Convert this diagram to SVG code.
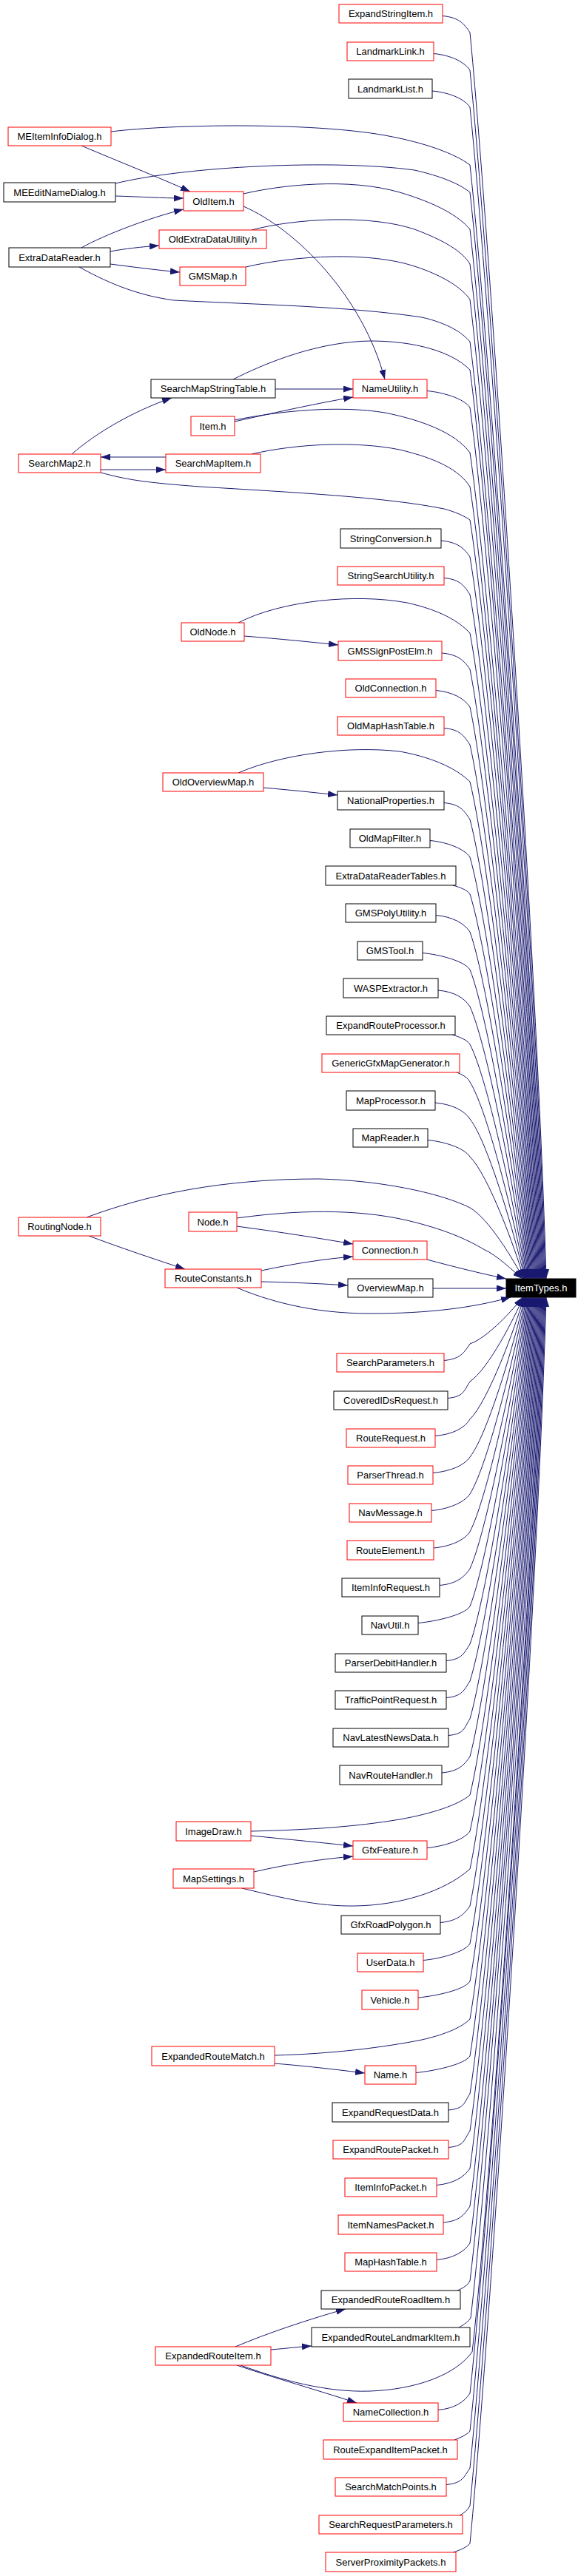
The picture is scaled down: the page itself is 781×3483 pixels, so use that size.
<svg xmlns="http://www.w3.org/2000/svg" width="781" height="3483" viewBox="0 0 781 3483">
<style>
.n rect{fill:#fff;stroke:#000;stroke-width:1}
.r rect{stroke:#f00}
.root rect{fill:#000;stroke:#000}
text{font-family:"Liberation Sans",Arial,Helvetica,sans-serif;font-size:13px;text-anchor:middle;fill:#000}
.root text{fill:#fff}
#edges path{fill:none;stroke:#191970;stroke-width:1;marker-end:url(#a)}
</style>
<defs>
<marker id="a" viewBox="0 0 13 9" refX="13" refY="4.5" markerWidth="13" markerHeight="9" markerUnits="userSpaceOnUse" orient="auto"><path d="M0,0L13,4.5L0,9z" fill="#191970"/></marker>
</defs>
<rect width="781" height="3483" fill="#fff"/>
<g id="edges">
<path d="M598,21.5 C620,23.5 627,32 635,44 C660,297 726,1308 738,1729"/>
<path d="M586,72.5 C608,74.5 627,83 635,95 C660,340 725,1320 737,1729"/>
<path d="M584,123 C606,125 627,133 635,145 C660,383 724,1333 736,1729"/>
<path d="M577,528.5 C599,530.5 627,539 635,551 C660,728 716,1434 728,1729"/>
<path d="M596,731 C618,733 627,741 635,753 C660,899 712,1485 724,1729"/>
<path d="M600,781.5 C622,783.5 627,792 635,804 C660,943 711,1498 723,1729"/>
<path d="M597,883 C619,885 627,893 635,905 C660,1029 709,1523 721,1729"/>
<path d="M589,933.5 C611,935.5 627,944 635,956 C660,1072 708,1536 720,1729"/>
<path d="M600,984.5 C622,986.5 627,995 635,1007 C660,1115 707,1549 719,1729"/>
<path d="M600,1085.5 C622,1087.5 627,1096 635,1108 C660,1201 705,1574 717,1729"/>
<path d="M581,1136.5 C603,1138.5 627,1147 635,1159 C660,1245 704,1587 716,1729"/>
<path d="M612,1197 C622,1200 631,1203 635,1209 C660,1287 703,1599 715,1729"/>
<path d="M589,1237.5 C611,1239.5 627,1248 635,1260 C660,1330 702,1612 714,1729"/>
<path d="M571,1288.5 C593,1290.5 627,1299 635,1311 C660,1374 701,1625 713,1729"/>
<path d="M592,1339 C614,1341 627,1349 635,1361 C660,1416 700,1637 712,1729"/>
<path d="M611,1399 C621,1402 631,1406 635,1412 C660,1460 699,1650 711,1729"/>
<path d="M617,1450 C625,1453 632,1457 635,1463 C660,1503 698,1663 710,1729"/>
<path d="M588,1491 C610,1493 627,1501 635,1513 C660,1545 697,1675 709,1729"/>
<path d="M578,1541.5 C600,1543.5 627,1552 635,1564 C660,1589 696,1688 708,1729"/>
<path d="M150,178 C230,168 420,165 520,183 C575,193 615,208 635,223 C660,449 723,1352 735,1729"/>
<path d="M156,248 C250,225 450,215 560,230 C595,238 620,248 635,260 C660,480 722,1362 734,1729"/>
<path d="M329,262 C380,250 470,240 540,260 C590,275 620,292 635,310 C660,523 721,1374 733,1729"/>
<path d="M340,311 C400,295 500,290 560,310 C600,325 625,340 635,357 C660,563 720,1386 732,1729"/>
<path d="M332,361 C400,345 500,340 560,360 C600,373 625,390 635,405 C660,604 719,1398 731,1729"/>
<path d="M107,361 C150,385 190,400 235,406 C350,412 470,414 570,429 C605,437 625,450 635,462 C660,652 718,1412 730,1729"/>
<path d="M315,513 C360,490 430,462 500,461 C560,461 610,475 635,500 C660,684 717,1422 729,1729"/>
<path d="M317,568 C380,555 460,548 520,558 C570,568 615,585 635,612 C660,780 715,1450 727,1729"/>
<path d="M340,614 C400,600 480,596 540,608 C590,620 620,635 635,658 C660,819 714,1461 726,1729"/>
<path d="M136,639 C170,648 190,652 270,658 C400,666 520,672 600,688 C615,692 628,698 635,703 C660,857 713,1472 725,1729"/>
<path d="M322,842 C380,812 480,802 550,815 C595,825 620,840 635,856 C660,987 710,1511 722,1729"/>
<path d="M322,1045 C380,1020 470,1008 540,1016 C590,1025 620,1042 635,1057 C660,1158 706,1561 718,1729"/>
<path d="M117,1646 C200,1615 300,1594 430,1594 C520,1596 600,1615 635,1633 C660,1647 695,1705 707,1729"/>
<path d="M320,1647 C400,1636 480,1634 550,1650 C600,1662 630,1675 655,1690 C670,1696 694,1719 706,1729"/>
<path d="M600,1839.5 C622,1837.5 627,1829 635,1817 C660,1808 694,1770 706,1754"/>
<path d="M605,1890.5 C627,1888.5 627,1880 635,1868 C660,1851 695,1782 707,1754"/>
<path d="M588,1941.5 C610,1939.5 627,1932 635,1919 C660,1894 696,1795 708,1754"/>
<path d="M585,1991.5 C607,1989.5 627,1982 635,1970 C660,1938 697,1808 709,1754"/>
<path d="M583,2042.5 C605,2040.5 627,2032 635,2020 C660,1980 698,1820 710,1754"/>
<path d="M586,2093 C608,2091 627,2083 635,2071 C660,2023 699,1833 711,1754"/>
<path d="M594,2143.5 C616,2141.5 627,2133 635,2121 C660,2066 700,1846 712,1754"/>
<path d="M565,2194.5 C587,2192.5 627,2184 635,2172 C660,2109 701,1858 713,1754"/>
<path d="M603,2245.5 C625,2243.5 627,2235 635,2223 C660,2153 702,1871 714,1754"/>
<path d="M603,2295.5 C625,2293.5 627,2285 635,2273 C660,2195 703,1884 715,1754"/>
<path d="M606,2346.5 C628,2344.5 627,2336 635,2324 C660,2238 704,1896 716,1754"/>
<path d="M597,2397 C619,2395 627,2387 635,2375 C660,2282 705,1909 717,1754"/>
<path d="M339,2476 C420,2474 480,2470 540,2460 C585,2452 620,2440 635,2427 C660,2326 706,1922 718,1754"/>
<path d="M577,2498.5 C599,2496.5 627,2488 635,2476 C660,2368 707,1934 719,1754"/>
<path d="M327,2553 C380,2566 430,2578 480,2577 C540,2576 600,2558 635,2527 C660,2411 708,1947 720,1754"/>
<path d="M595,2599.5 C617,2597.5 627,2589 635,2577 C660,2454 709,1960 721,1754"/>
<path d="M572,2650.5 C594,2648.5 627,2640 635,2628 C660,2497 710,1972 722,1754"/>
<path d="M565,2701 C587,2699 627,2691 635,2679 C660,2540 711,1985 723,1754"/>
<path d="M371,2779 C450,2777 520,2768 570,2758 C605,2750 625,2740 635,2730 C660,2584 712,1998 724,1754"/>
<path d="M562,2802.5 C584,2800.5 627,2792 635,2780 C660,2626 713,2010 725,1754"/>
<path d="M606,2853 C628,2851 627,2843 635,2831 C660,2669 714,2023 726,1754"/>
<path d="M606,2903.5 C628,2901.5 627,2893 635,2881 C660,2712 715,2036 727,1754"/>
<path d="M590,2954.5 C612,2952.5 627,2944 635,2932 C660,2755 716,2048 728,1754"/>
<path d="M599,3005 C621,3003 627,2995 635,2983 C660,2799 717,2061 729,1754"/>
<path d="M590,3055.5 C612,3053.5 627,3045 635,3033 C660,2841 718,2074 730,1754"/>
<path d="M618,3097 C625,3094 632,3090 635,3084 C660,2884 719,2086 731,1754"/>
<path d="M620,3147 C627,3143 633,3139 636,3134 C661,2928 720,2099 732,1754"/>
<path d="M325,3198 C380,3218 440,3235 500,3233 C560,3231 615,3212 638,3180 C663,2966 721,2110 733,1754"/>
<path d="M592,3258.5 C614,3256.5 627,3248 635,3236 C660,3014 722,2124 734,1754"/>
<path d="M614,3299 C622,3296 631,3292 635,3287 C660,3057 723,2137 735,1754"/>
<path d="M603,3359.5 C625,3357.5 627,3349 635,3337 C660,3100 724,2150 736,1754"/>
<path d="M621,3401 C627,3398 632,3394 635,3388 C660,3143 725,2162 737,1754"/>
<path d="M612,3451 C622,3448 631,3444 635,3439 C660,3186 726,2175 738,1754"/>
<path d="M110,197 C150,214 215,240 257,259"/>
<path d="M156,265 C190,266 220,268 248,268"/>
<path d="M110,335 C140,318 200,295 248,283"/>
<path d="M149,340 C170,336 190,334 215,332"/>
<path d="M149,357 C180,361 210,365 243,368"/>
<path d="M329,279 C400,310 490,400 520,513"/>
<path d="M372,526 L477,526"/>
<path d="M317,570 C380,556 430,545 477,537"/>
<path d="M97,614 C130,585 180,556 232,538"/>
<path d="M224,618 L136,618"/>
<path d="M136,635 L224,635"/>
<path d="M330,860 C380,864 420,868 457,872"/>
<path d="M356,1065 C390,1068 420,1071 456,1075"/>
<path d="M120,1671 C160,1686 210,1703 250,1716"/>
<path d="M320,1658 C380,1666 430,1674 477,1682"/>
<path d="M353,1718 C400,1708 440,1702 477,1699"/>
<path d="M353,1733 C400,1734 440,1736 470,1738"/>
<path d="M320,1741 C360,1758 420,1776 500,1776 C580,1776 640,1768 690,1754"/>
<path d="M577,1703 C610,1712 650,1722 684,1729"/>
<path d="M585,1742 L684,1742"/>
<path d="M339,2482 C390,2487 440,2492 477,2496"/>
<path d="M343,2531 C390,2520 440,2513 477,2510"/>
<path d="M371,2790 C420,2794 460,2799 493,2803"/>
<path d="M318,3173 C360,3155 420,3135 467,3122"/>
<path d="M366,3177 C390,3175 405,3173 421,3172"/>
<path d="M320,3198 C370,3215 430,3232 482,3249"/>
</g>
<g id="ExpandStringItem_h" class="n r"><rect x="458" y="6" width="140" height="25"/><text x="528" y="23">ExpandStringItem.h</text></g>
<g id="LandmarkLink_h" class="n r"><rect x="469" y="57" width="117" height="25"/><text x="527.5" y="74">LandmarkLink.h</text></g>
<g id="LandmarkList_h" class="n"><rect x="471" y="107" width="113" height="26"/><text x="527.5" y="124.5">LandmarkList.h</text></g>
<g id="NameUtility_h" class="n r"><rect x="477" y="513" width="100" height="25"/><text x="527" y="530">NameUtility.h</text></g>
<g id="StringConversion_h" class="n"><rect x="460" y="715" width="136" height="26"/><text x="528" y="732.5">StringConversion.h</text></g>
<g id="StringSearchUtility_h" class="n r"><rect x="456" y="766" width="144" height="25"/><text x="528" y="783">StringSearchUtility.h</text></g>
<g id="GMSSignPostElm_h" class="n r"><rect x="457" y="867" width="140" height="26"/><text x="527" y="884.5">GMSSignPostElm.h</text></g>
<g id="OldConnection_h" class="n r"><rect x="467" y="918" width="122" height="25"/><text x="528" y="935">OldConnection.h</text></g>
<g id="OldMapHashTable_h" class="n r"><rect x="456" y="969" width="144" height="25"/><text x="528" y="986">OldMapHashTable.h</text></g>
<g id="NationalProperties_h" class="n"><rect x="456" y="1070" width="144" height="25"/><text x="528" y="1087">NationalProperties.h</text></g>
<g id="OldMapFilter_h" class="n"><rect x="473" y="1121" width="108" height="25"/><text x="527" y="1138">OldMapFilter.h</text></g>
<g id="ExtraDataReaderTables_h" class="n"><rect x="440" y="1171" width="176" height="26"/><text x="528" y="1188.5">ExtraDataReaderTables.h</text></g>
<g id="GMSPolyUtility_h" class="n"><rect x="467" y="1222" width="122" height="25"/><text x="528" y="1239">GMSPolyUtility.h</text></g>
<g id="GMSTool_h" class="n"><rect x="483" y="1273" width="88" height="25"/><text x="527" y="1290">GMSTool.h</text></g>
<g id="WASPExtractor_h" class="n"><rect x="464" y="1323" width="128" height="26"/><text x="528" y="1340.5">WASPExtractor.h</text></g>
<g id="ExpandRouteProcessor_h" class="n"><rect x="441" y="1374" width="174" height="25"/><text x="528" y="1391">ExpandRouteProcessor.h</text></g>
<g id="GenericGfxMapGenerator_h" class="n r"><rect x="435" y="1425" width="186" height="25"/><text x="528" y="1442">GenericGfxMapGenerator.h</text></g>
<g id="MapProcessor_h" class="n"><rect x="468" y="1475" width="120" height="26"/><text x="528" y="1492.5">MapProcessor.h</text></g>
<g id="MapReader_h" class="n"><rect x="477" y="1526" width="101" height="25"/><text x="527.5" y="1543">MapReader.h</text></g>
<g id="Connection_h" class="n r"><rect x="477" y="1678" width="100" height="25"/><text x="527" y="1695">Connection.h</text></g>
<g id="OverviewMap_h" class="n"><rect x="470" y="1729" width="115" height="25"/><text x="527.5" y="1746">OverviewMap.h</text></g>
<g id="SearchParameters_h" class="n r"><rect x="455" y="1830" width="145" height="25"/><text x="527.5" y="1847">SearchParameters.h</text></g>
<g id="CoveredIDsRequest_h" class="n"><rect x="451" y="1881" width="154" height="25"/><text x="528" y="1898">CoveredIDsRequest.h</text></g>
<g id="RouteRequest_h" class="n r"><rect x="468" y="1932" width="120" height="25"/><text x="528" y="1949">RouteRequest.h</text></g>
<g id="ParserThread_h" class="n r"><rect x="470" y="1982" width="115" height="25"/><text x="527.5" y="1999">ParserThread.h</text></g>
<g id="NavMessage_h" class="n r"><rect x="472" y="2033" width="111" height="25"/><text x="527.5" y="2050">NavMessage.h</text></g>
<g id="RouteElement_h" class="n r"><rect x="469" y="2083" width="117" height="26"/><text x="527.5" y="2100.5">RouteElement.h</text></g>
<g id="ItemInfoRequest_h" class="n"><rect x="462" y="2134" width="132" height="25"/><text x="528" y="2151">ItemInfoRequest.h</text></g>
<g id="NavUtil_h" class="n"><rect x="489" y="2185" width="76" height="25"/><text x="527" y="2202">NavUtil.h</text></g>
<g id="ParserDebitHandler_h" class="n"><rect x="453" y="2236" width="150" height="25"/><text x="528" y="2253">ParserDebitHandler.h</text></g>
<g id="TrafficPointRequest_h" class="n"><rect x="453" y="2286" width="150" height="25"/><text x="528" y="2303">TrafficPointRequest.h</text></g>
<g id="NavLatestNewsData_h" class="n"><rect x="450" y="2337" width="156" height="25"/><text x="528" y="2354">NavLatestNewsData.h</text></g>
<g id="NavRouteHandler_h" class="n"><rect x="459" y="2387" width="138" height="26"/><text x="528" y="2404.5">NavRouteHandler.h</text></g>
<g id="GfxFeature_h" class="n r"><rect x="477" y="2489" width="100" height="25"/><text x="527" y="2506">GfxFeature.h</text></g>
<g id="GfxRoadPolygon_h" class="n"><rect x="461" y="2590" width="134" height="25"/><text x="528" y="2607">GfxRoadPolygon.h</text></g>
<g id="UserData_h" class="n r"><rect x="483" y="2641" width="89" height="25"/><text x="527.5" y="2658">UserData.h</text></g>
<g id="Vehicle_h" class="n r"><rect x="489" y="2691" width="76" height="26"/><text x="527" y="2708.5">Vehicle.h</text></g>
<g id="Name_h" class="n r"><rect x="493" y="2793" width="69" height="25"/><text x="527.5" y="2810">Name.h</text></g>
<g id="ExpandRequestData_h" class="n"><rect x="449" y="2843" width="157" height="26"/><text x="527.5" y="2860.5">ExpandRequestData.h</text></g>
<g id="ExpandRoutePacket_h" class="n r"><rect x="450" y="2894" width="156" height="25"/><text x="528" y="2911">ExpandRoutePacket.h</text></g>
<g id="ItemInfoPacket_h" class="n r"><rect x="466" y="2945" width="124" height="25"/><text x="528" y="2962">ItemInfoPacket.h</text></g>
<g id="ItemNamesPacket_h" class="n r"><rect x="457" y="2995" width="142" height="26"/><text x="528" y="3012.5">ItemNamesPacket.h</text></g>
<g id="MapHashTable_h" class="n r"><rect x="466" y="3046" width="124" height="25"/><text x="528" y="3063">MapHashTable.h</text></g>
<g id="ExpandedRouteRoadItem_h" class="n"><rect x="434" y="3097" width="188" height="25"/><text x="528" y="3114">ExpandedRouteRoadItem.h</text></g>
<g id="ExpandedRouteLandmarkItem_h" class="n"><rect x="421" y="3147" width="214" height="26"/><text x="528" y="3164.5">ExpandedRouteLandmarkItem.h</text></g>
<g id="NameCollection_h" class="n r"><rect x="464" y="3249" width="128" height="25"/><text x="528" y="3266">NameCollection.h</text></g>
<g id="RouteExpandItemPacket_h" class="n r"><rect x="437" y="3299" width="181" height="26"/><text x="527.5" y="3316.5">RouteExpandItemPacket.h</text></g>
<g id="SearchMatchPoints_h" class="n r"><rect x="453" y="3350" width="150" height="25"/><text x="528" y="3367">SearchMatchPoints.h</text></g>
<g id="SearchRequestParameters_h" class="n r"><rect x="431" y="3401" width="194" height="25"/><text x="528" y="3418">SearchRequestParameters.h</text></g>
<g id="ServerProximityPackets_h" class="n r"><rect x="440" y="3451" width="176" height="26"/><text x="528" y="3468.5">ServerProximityPackets.h</text></g>
<g id="OldItem_h" class="n r"><rect x="248" y="259" width="81" height="26"/><text x="288.5" y="276.5">OldItem.h</text></g>
<g id="OldExtraDataUtility_h" class="n r"><rect x="215" y="311" width="145" height="25"/><text x="287.5" y="328">OldExtraDataUtility.h</text></g>
<g id="GMSMap_h" class="n r"><rect x="243" y="361" width="89" height="25"/><text x="287.5" y="378">GMSMap.h</text></g>
<g id="SearchMapStringTable_h" class="n"><rect x="204" y="513" width="168" height="25"/><text x="288" y="530">SearchMapStringTable.h</text></g>
<g id="Item_h" class="n r"><rect x="258" y="563" width="59" height="26"/><text x="287.5" y="580.5">Item.h</text></g>
<g id="SearchMapItem_h" class="n r"><rect x="224" y="614" width="128" height="25"/><text x="288" y="631">SearchMapItem.h</text></g>
<g id="OldNode_h" class="n r"><rect x="245" y="842" width="85" height="25"/><text x="287.5" y="859">OldNode.h</text></g>
<g id="OldOverviewMap_h" class="n r"><rect x="220" y="1045" width="136" height="25"/><text x="288" y="1062">OldOverviewMap.h</text></g>
<g id="Node_h" class="n r"><rect x="255" y="1639" width="65" height="26"/><text x="287.5" y="1656.5">Node.h</text></g>
<g id="RouteConstants_h" class="n r"><rect x="223" y="1716" width="130" height="25"/><text x="288" y="1733">RouteConstants.h</text></g>
<g id="ImageDraw_h" class="n r"><rect x="238" y="2463" width="101" height="26"/><text x="288.5" y="2480.5">ImageDraw.h</text></g>
<g id="MapSettings_h" class="n r"><rect x="234" y="2527" width="109" height="26"/><text x="288.5" y="2544.5">MapSettings.h</text></g>
<g id="ExpandedRouteMatch_h" class="n r"><rect x="205" y="2767" width="166" height="26"/><text x="288" y="2784.5">ExpandedRouteMatch.h</text></g>
<g id="ExpandedRouteItem_h" class="n r"><rect x="210" y="3173" width="156" height="25"/><text x="288" y="3190">ExpandedRouteItem.h</text></g>
<g id="MEItemInfoDialog_h" class="n r"><rect x="11" y="172" width="139" height="25"/><text x="80.5" y="189">MEItemInfoDialog.h</text></g>
<g id="MEEditNameDialog_h" class="n"><rect x="5" y="247" width="151" height="26"/><text x="80.5" y="264.5">MEEditNameDialog.h</text></g>
<g id="ExtraDataReader_h" class="n"><rect x="12" y="335" width="137" height="26"/><text x="80.5" y="352.5">ExtraDataReader.h</text></g>
<g id="SearchMap2_h" class="n r"><rect x="25" y="614" width="111" height="25"/><text x="80.5" y="631">SearchMap2.h</text></g>
<g id="RoutingNode_h" class="n r"><rect x="25" y="1646" width="111" height="25"/><text x="80.5" y="1663">RoutingNode.h</text></g>
<g id="ItemTypes_h" class="n root"><rect x="684" y="1729" width="94" height="25"/><text x="731" y="1746">ItemTypes.h</text></g>
</svg>
